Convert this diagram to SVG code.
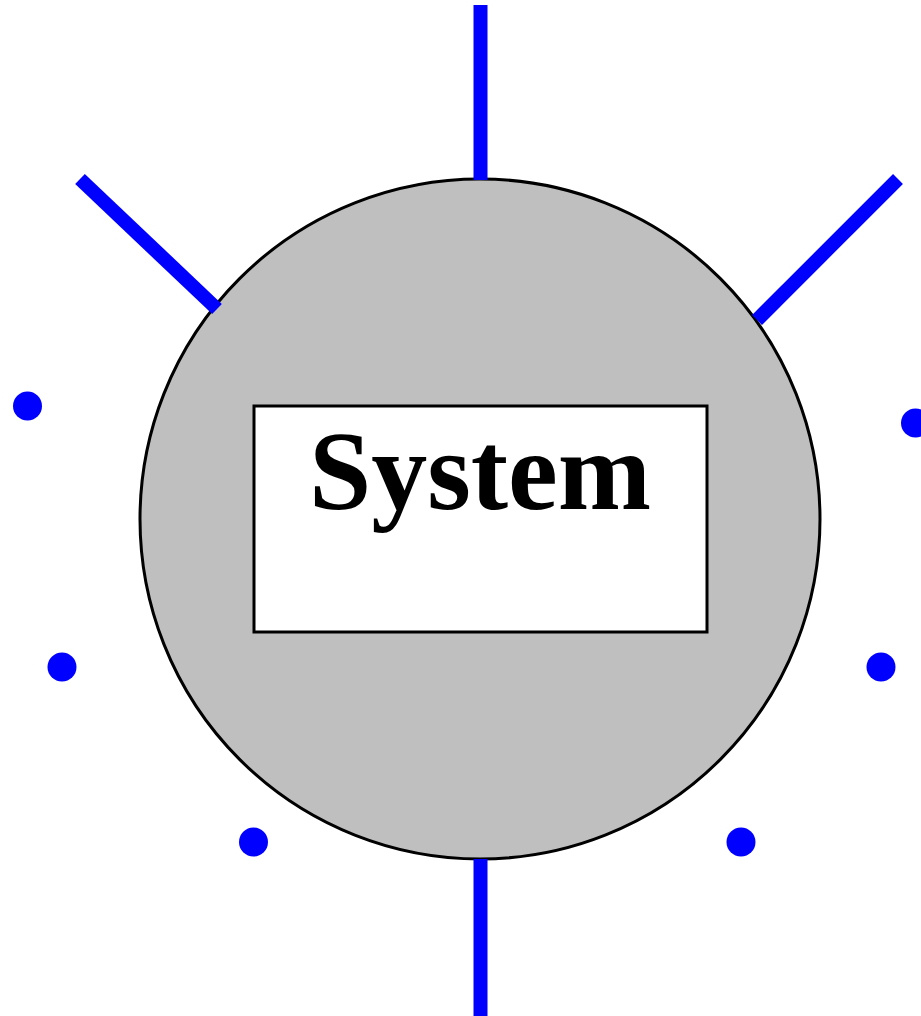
<svg xmlns="http://www.w3.org/2000/svg" width="921" height="1016" viewBox="0 0 921 1016">
<style>
.port{stroke:#0000ff;stroke-width:14;fill:none}
.dot{fill:#0000ff}
.lbl{font-family:"Liberation Serif","Times New Roman",serif;font-weight:bold;font-size:112px;text-anchor:middle;fill:#000}
</style>
<rect width="921" height="1016" fill="#fff"/>
<g id="system">
<circle cx="480" cy="519" r="340" fill="#bfbfbf" stroke="#000" stroke-width="3"/>
<rect x="254" y="406" width="453" height="226" fill="#fff" stroke="#000" stroke-width="3"/>
<text class="lbl" x="480" y="509">System</text>
</g>
<g id="connectors">
<line class="port" x1="480.5" y1="5" x2="480.5" y2="180"/>
<line class="port" x1="480.5" y1="859" x2="480.5" y2="1016"/>
<line class="port" x1="80" y1="179" x2="217" y2="309"/>
<line class="port" x1="898" y1="179" x2="757" y2="320"/>
</g>
<g id="dots">
<circle class="dot" cx="27.5" cy="406" r="14.5"/>
<circle class="dot" cx="62" cy="667" r="14.5"/>
<circle class="dot" cx="253.5" cy="842" r="14.5"/>
<circle class="dot" cx="741" cy="842" r="14.5"/>
<circle class="dot" cx="881" cy="667" r="14.5"/>
<circle class="dot" cx="915.5" cy="423" r="14.5"/>
</g>
</svg>
